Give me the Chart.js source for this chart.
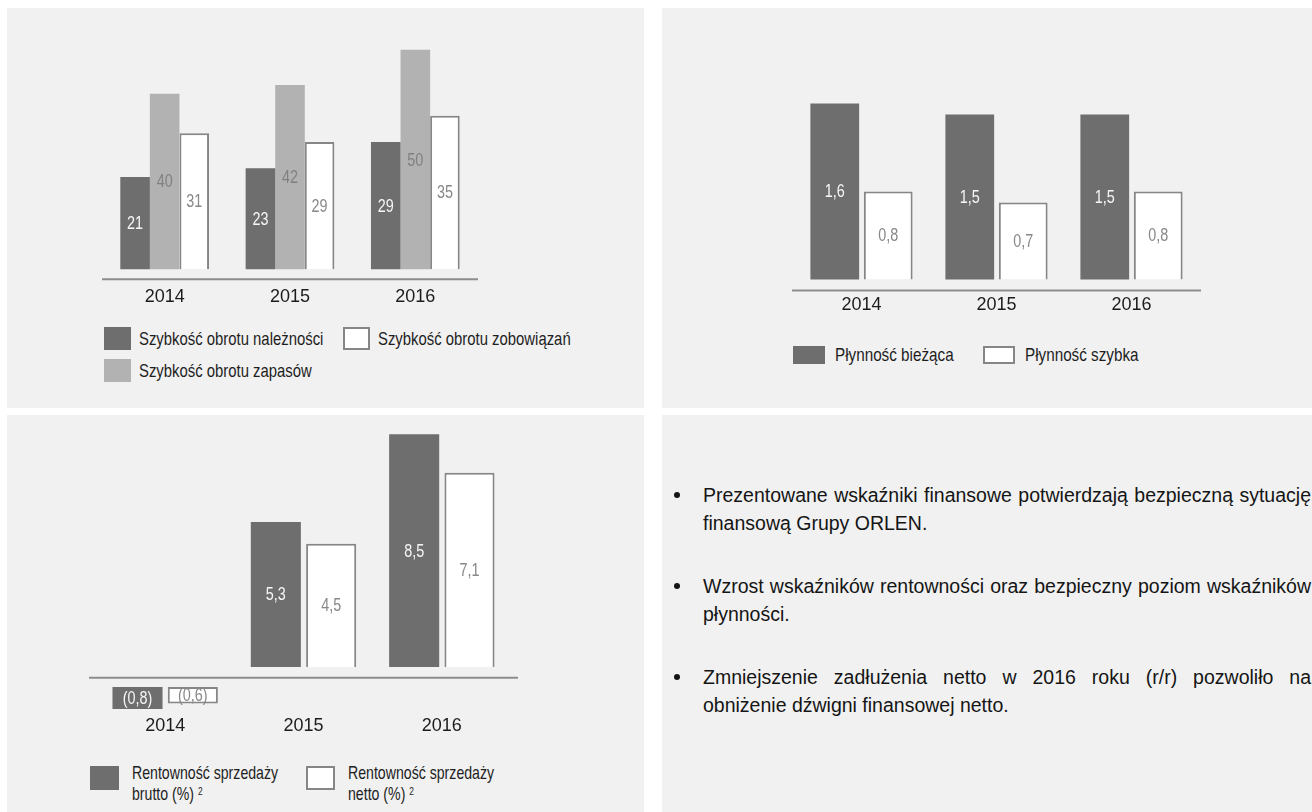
<!DOCTYPE html>
<html lang="pl">
<head>
<meta charset="utf-8">
<title>Wskaźniki finansowe Grupy ORLEN</title>
<script src="https://cdn.jsdelivr.net/npm/chart.js@4.4.1/dist/chart.umd.min.js"></script>
<style>
  html, body { margin:0; padding:0; background:#fff; }
  body { position:relative; width:1312px; height:812px; overflow:hidden; }
  .panel { position:absolute; background:#f1f1f1; }
  .box { position:absolute; }
  .legend { position:absolute; display:grid; color:#1e1e1e;
    font-family:"Liberation Sans",Arial,sans-serif; font-size:18.6px; }
  .legend .item { display:flex; align-items:center; }
  .legend .sw { display:inline-block; box-sizing:border-box; flex:none; }
  .legend .tx { display:inline-block; white-space:nowrap; transform-origin:left center; }
  #leg1 { left:104px; top:327px; grid-template-columns:239px auto; row-gap:9px; }
  #leg1 .sw { width:27px; height:23px; margin-right:8px; }
  #leg1 .tx { transform:scaleX(0.8); }
  #leg2 { left:793px; top:344px; grid-template-columns:190px auto; }
  #leg2 .sw { width:32px; height:18px; margin-right:10px; }
  #leg2 .tx { transform:scaleX(0.82); }
  #leg3 { left:90px; top:766px; grid-template-columns:216px auto; }
  #leg3 .item { align-items:flex-start; }
  #leg3 .sw { width:29px; height:24px; margin-right:13px; }
  #leg3 .tx { line-height:21px; margin-top:-4px; transform:scaleX(0.76); transform-origin:left top; }
  #leg3 sup { font-size:11px; vertical-align:top; position:relative; top:-2px; }
  .bullets { position:absolute; left:703px; top:481px; width:608px; color:#151515;
    font-family:"Liberation Sans",Arial,sans-serif; font-size:19.5px; line-height:28px; text-align:justify; }
  .bullets p { position:relative; margin:0 0 35px 0; }
  .bullets p::before { content:""; position:absolute; left:-29px; top:11px; width:6px; height:6px;
    border-radius:50%; background:#151515; }
</style>
</head>
<body>
<div class="panel" style="left:7px;top:8px;width:637px;height:400px"></div>
<div class="panel" style="left:662px;top:8px;width:650px;height:400px"></div>
<div class="panel" style="left:7px;top:415px;width:637px;height:397px"></div>
<div class="panel" style="left:662px;top:415px;width:650px;height:397px"></div>

<div class="box" style="left:102px;top:30px;width:376px;height:285px"><canvas id="c1"></canvas></div>
<div class="box" style="left:790px;top:80px;width:413px;height:240px"><canvas id="c2"></canvas></div>
<div class="box" style="left:86px;top:415px;width:435px;height:325px"><canvas id="c3"></canvas></div>

<div class="legend" id="leg1"></div>
<div class="legend" id="leg2"></div>
<div class="legend" id="leg3"></div>

<div class="bullets">
  <p>Prezentowane wskaźniki finansowe potwierdzają bezpieczną sytuację finansową Grupy ORLEN.</p>
  <p>Wzrost wskaźników rentowności oraz bezpieczny poziom wskaźników płynności.</p>
  <p>Zmniejszenie zadłużenia netto w 2016 roku (r/r) pozwoliło na obniżenie dźwigni finansowej netto.</p>
</div>

<script>
// dane
const years = ['2014', '2015', '2016'];

// szybkość obrotu (dni)
const obrotNaleznosci = [21, 23, 29];
const obrotZapasow = [40, 42, 50];
const obrotZobowiazan = [31, 29, 35];
const obrotNazwy = ['Szybkość obrotu należności', 'Szybkość obrotu zapasów', 'Szybkość obrotu zobowiązań'];

// płynność
const plynnoscBiezaca = [1.6, 1.5, 1.5];
const plynnoscSzybka = [0.8, 0.7, 0.8];
const plynnoscNazwy = ['Płynność bieżąca', 'Płynność szybka'];

// rentowność sprzedaży (%)
const rentBrutto = [-0.8, 5.3, 8.5];
const rentNetto = [-0.6, 4.5, 7.1];
const rentNazwy = [['Rentowność sprzedaży', 'brutto (%)'], ['Rentowność sprzedaży', 'netto (%)']];
const rentPrzypis = '2';

const FONT = '"Liberation Sans", Arial, sans-serif';
const DARK = '#6e6e6e', LIGHT = '#b2b2b2', EDGE = '#868686';

Chart.defaults.font.family = FONT;

const fmtInt = v => String(v);
const fmtDec = v => {
  const s = Math.abs(v).toFixed(1).replace('.', ',');
  return v < 0 ? '(' + s + ')' : s;
};

// linia osi poziomej + odsunięcie ujemnych słupków
const axisLine = {
  id: 'axisLine',
  afterDatasetsUpdate(chart, args, opts) {
    if (!opts.negShift) return;
    chart.data.datasets.forEach((ds, i) => {
      chart.getDatasetMeta(i).data.forEach((bar, j) => {
        if (ds.data[j] < 0) { bar.y += opts.negShift; bar.base += opts.negShift; }
      });
    });
  },
  beforeDatasetsDraw(chart, args, opts) {
    const { ctx, chartArea } = chart;
    const py = chart.scales.y.getPixelForValue(0) + opts.offset;
    ctx.save();
    ctx.strokeStyle = '#8d8d8d';
    ctx.lineWidth = 2;
    ctx.beginPath();
    ctx.moveTo(chartArea.left - opts.ext, py);
    ctx.lineTo(chartArea.right + opts.ext, py);
    ctx.stroke();
    ctx.restore();
  }
};

// etykiety wartości w środku słupków (pismo zwężone)
const barLabels = {
  id: 'barLabels',
  afterDatasetsDraw(chart, args, opts) {
    const { ctx } = chart;
    chart.data.datasets.forEach((ds, i) => {
      chart.getDatasetMeta(i).data.forEach((bar, j) => {
        ctx.save();
        ctx.font = '18px ' + FONT;
        ctx.textAlign = 'center';
        ctx.textBaseline = 'middle';
        ctx.fillStyle = ds.labelColor;
        ctx.translate(bar.x, (bar.y + bar.base) / 2);
        ctx.scale(0.8, 1);
        ctx.fillText(opts.format(ds.data[j]), 0, 1);
        ctx.restore();
      });
    });
  }
};

function makeChart(id, datasets, cfg) {
  return new Chart(document.getElementById(id), {
    type: 'bar',
    data: { labels: years, datasets },
    options: {
      responsive: true,
      maintainAspectRatio: false,
      animation: false,
      layout: { padding: cfg.padding },
      datasets: { bar: { categoryPercentage: cfg.cat, barPercentage: cfg.bar } },
      plugins: {
        legend: { display: false },
        tooltip: { enabled: false },
        axisLine: cfg.axis,
        barLabels: { format: cfg.format }
      },
      scales: {
        x: {
          grid: { display: false, drawTicks: false },
          border: { display: false },
          ticks: { color: '#1c1c1c', font: { size: 18 }, padding: cfg.tickPad }
        },
        y: { display: false, min: cfg.min, max: cfg.max }
      }
    },
    plugins: [axisLine, barLabels]
  });
}

const whiteBar = (data, label, extra) => Object.assign({
  label, data, backgroundColor: '#ffffff', borderColor: EDGE, borderWidth: 2, labelColor: '#888888'
}, extra || {});

makeChart('c1', [
  { label: obrotNazwy[0], data: obrotNaleznosci, backgroundColor: DARK, labelColor: '#f6f6f6' },
  { label: obrotNazwy[1], data: obrotZapasow, backgroundColor: LIGHT, labelColor: '#808080' },
  whiteBar(obrotZobowiazan, obrotNazwy[2])
], { padding: { top: 11 }, cat: 0.708, bar: 1.0, min: -2.3, max: 52, tickPad: 7,
     axis: { offset: 10, ext: 0 }, format: fmtInt });

makeChart('c2', [
  { label: plynnoscNazwy[0], data: plynnoscBiezaca, backgroundColor: DARK, labelColor: '#f6f6f6' },
  whiteBar(plynnoscSzybka, plynnoscNazwy[1])
], { padding: { top: 10, left: 4, right: 4 }, cat: 0.792, bar: 0.912, min: -0.1, max: 1.723, tickPad: 4,
     axis: { offset: 11, ext: 2 }, format: fmtDec });

makeChart('c3', [
  { label: rentNazwy[0].join(' '), data: rentBrutto, backgroundColor: DARK, labelColor: '#f6f6f6' },
  whiteBar(rentNetto, rentNazwy[1].join(' '), { borderSkipped: c => (c.raw < 0 ? false : 'start') })
], { padding: { top: 10, left: 10, right: 10 }, cat: 0.8, bar: 0.905, min: -1.656, max: 8.84, tickPad: 3,
     axis: { offset: 10.6, ext: 7, negShift: 20 }, format: fmtDec });

// legendy
function buildLegend(id, items) {
  const el = document.getElementById(id);
  items.forEach(it => {
    const item = document.createElement('div');
    item.className = 'item';
    const sw = document.createElement('span');
    sw.className = 'sw';
    sw.style.background = it.fill;
    if (it.edge) sw.style.border = '2px solid ' + it.edge;
    const tx = document.createElement('span');
    tx.className = 'tx';
    tx.innerHTML = it.text;
    item.appendChild(sw);
    item.appendChild(tx);
    el.appendChild(item);
  });
}

buildLegend('leg1', [
  { fill: DARK, text: obrotNazwy[0] },
  { fill: '#fff', edge: EDGE, text: obrotNazwy[2] },
  { fill: LIGHT, text: obrotNazwy[1] }
]);
buildLegend('leg2', [
  { fill: DARK, text: plynnoscNazwy[0] },
  { fill: '#fff', edge: EDGE, text: plynnoscNazwy[1] }
]);
buildLegend('leg3', rentNazwy.map((n, i) => ({
  fill: i === 0 ? DARK : '#fff',
  edge: i === 0 ? null : EDGE,
  text: n[0] + '<br>' + n[1] + ' <sup>' + rentPrzypis + '</sup>'
})));
</script>
</body>
</html>
